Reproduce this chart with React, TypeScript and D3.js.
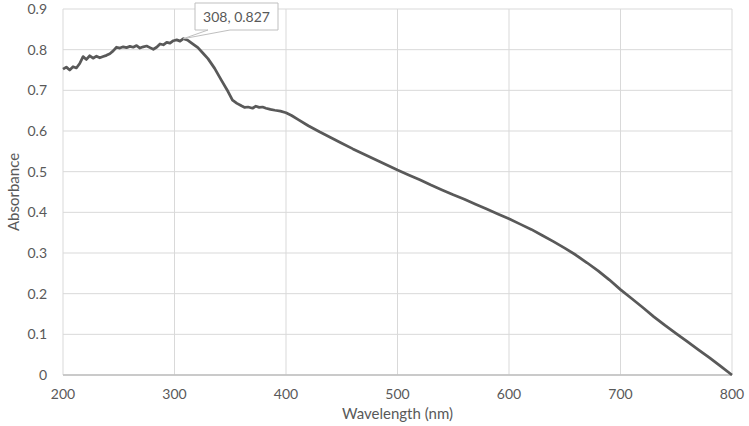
import React from "react";
import * as d3 from "d3";

// spectrum (nm, absorbance)
const wavelengths = [
  200, 203, 206, 209, 212, 215, 218, 221, 224, 227, 230, 233, 236, 239, 242, 245, 248,
  251, 254, 257, 260, 263, 266, 269, 272, 275, 278, 281, 284, 287, 290, 293, 296, 299,
  302, 305, 308, 312, 316, 321, 326, 330, 336, 342, 348, 352, 356, 360, 363, 366, 370,
  373, 376, 379, 382, 386, 390, 395, 400, 405, 411, 420, 430, 440, 450, 460, 470, 480,
  490, 500, 510, 520, 530, 540, 550, 560, 570, 580, 590, 600, 610, 620, 630, 640, 650,
  660, 670, 680, 690, 700, 710, 720, 730, 740, 750, 760, 770, 780, 790, 800,
];
const absorbance = [
  0.752, 0.757, 0.75, 0.758, 0.755, 0.766, 0.783, 0.776, 0.785, 0.779, 0.784, 0.78, 0.783,
  0.786, 0.79, 0.797, 0.806, 0.804, 0.807, 0.805, 0.808, 0.806, 0.81, 0.804, 0.807, 0.809,
  0.805, 0.801, 0.806, 0.814, 0.812, 0.818, 0.816, 0.822, 0.824, 0.821, 0.827, 0.823,
  0.815, 0.805, 0.79, 0.778, 0.754, 0.725, 0.697, 0.676, 0.668, 0.662, 0.658, 0.659, 0.656,
  0.661, 0.658, 0.659, 0.656, 0.653, 0.651, 0.649, 0.645, 0.638, 0.628, 0.613, 0.598,
  0.584, 0.57, 0.556, 0.543, 0.53, 0.517, 0.504, 0.492, 0.48, 0.467, 0.455, 0.443, 0.432,
  0.42, 0.408, 0.396, 0.384, 0.371, 0.358, 0.343, 0.328, 0.312, 0.295, 0.276, 0.256,
  0.234, 0.21, 0.188, 0.166, 0.143, 0.122, 0.102, 0.082, 0.062, 0.042, 0.021, 0.0,
];
const xTicks = [200, 300, 400, 500, 600, 700, 800];
const yTicks = [0, 0.1, 0.2, 0.3, 0.4, 0.5, 0.6, 0.7, 0.8, 0.9];
const peak = { x: 308, y: 0.827, label: "308, 0.827" };

const W = 749;
const H = 426;
const margin = { top: 9, right: 17, bottom: 51, left: 63 };
const font = "Lato, 'Open Sans', sans-serif";
const textColor = "#595959";

export default function App() {
  const x = d3.scaleLinear().domain([200, 800]).range([margin.left, W - margin.right]);
  const y = d3.scaleLinear().domain([0, 0.9]).range([H - margin.bottom, margin.top]);

  const points: [number, number][] = wavelengths.map((w, i) => [w, absorbance[i]]);
  const line = d3
    .line<[number, number]>()
    .x((d) => x(d[0]))
    .y((d) => y(d[1]));

  // callout box for the peak
  const px = x(peak.x);
  const py = y(peak.y);
  const box = { x0: 195, x1: 278, y0: 3, y1: 30 };

  return (
    <svg
      width={W}
      height={H}
      style={{ position: "absolute", left: 0, top: 0, background: "#fff" }}
      fontFamily={font}
    >
      {/* grid */}
      {yTicks.map((t) => (
        <line key={"gy" + t} x1={x(200)} x2={x(800)} y1={y(t)} y2={y(t)} stroke="#d9d9d9" strokeWidth={1} />
      ))}
      {xTicks.map((t) => (
        <line key={"gx" + t} x1={x(t)} x2={x(t)} y1={y(0)} y2={y(0.9)} stroke="#d9d9d9" strokeWidth={1} />
      ))}
      <line x1={x(200)} x2={x(800)} y1={y(0)} y2={y(0)} stroke="#bfbfbf" strokeWidth={1.5} />

      {/* tick labels */}
      {yTicks.map((t) => (
        <text key={"ty" + t} x={47} y={y(t) + 5} textAnchor="end" fontSize={14} fill={textColor}>
          {t === 0 ? "0" : d3.format(".1f")(t)}
        </text>
      ))}
      {xTicks.map((t) => (
        <text key={"tx" + t} x={x(t)} y={399} textAnchor="middle" fontSize={14} fill={textColor}>
          {t}
        </text>
      ))}

      {/* axis titles */}
      <text x={(x(200) + x(800)) / 2} y={419} textAnchor="middle" fontSize={15} fill={textColor}>
        Wavelength (nm)
      </text>
      <text
        transform={`translate(19, ${y(0.45)}) rotate(-90)`}
        textAnchor="middle"
        fontSize={15}
        fill={textColor}
      >
        Absorbance
      </text>

      {/* series */}
      <path d={line(points) ?? ""} fill="none" stroke="#595959" strokeWidth={2.75} strokeLinejoin="round" />

      {/* data label callout */}
      <path
        d={`M${box.x0},${box.y0}H${box.x1}V${box.y1}H230L${px},${py}L208,${box.y1}H${box.x0}Z`}
        fill="#fff"
        stroke="#bfbfbf"
        strokeWidth={1}
      />
      <text x={(box.x0 + box.x1) / 2} y={22} textAnchor="middle" fontSize={14} fill={textColor}>
        {peak.label}
      </text>
    </svg>
  );
}
